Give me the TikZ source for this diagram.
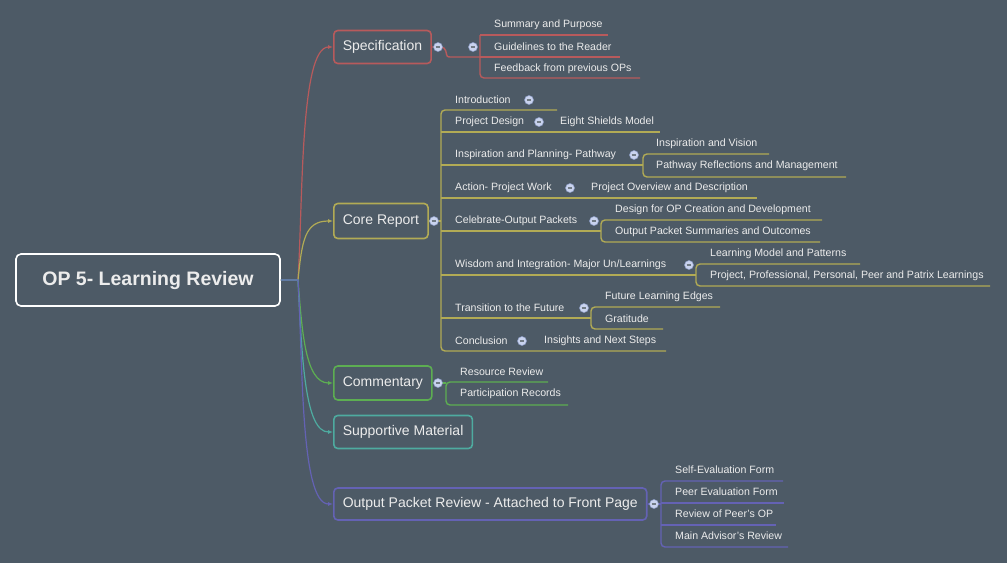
\documentclass[tikz,border=0pt]{standalone}
\usepackage{fontspec}
\setmainfont{Liberation Sans}
\usetikzlibrary{arrows.meta}
\definecolor{bg}{HTML}{4D5A66}
\definecolor{cspec}{HTML}{B85A5C}
\definecolor{ccore}{HTML}{B2AB55}
\definecolor{ccom}{HTML}{5DAE52}
\definecolor{csup}{HTML}{4EABA0}
\definecolor{cout}{HTML}{6462B4}
\definecolor{txt}{HTML}{ECECEC}
\definecolor{icf}{HTML}{C9D3EE}
\definecolor{icd}{HTML}{8C9CC6}
\tikzset{
  lbl/.style={anchor=west,inner sep=0pt,text=txt,font=\fontsize{10.6}{12}\selectfont},
  topic/.style={draw=#1,line width=1.6pt,rounded corners=4pt,text=txt,font=\fontsize{14}{16}\selectfont,anchor=west,inner xsep=9pt,inner ysep=0pt,minimum height=33pt},
  br/.style={line width=1.4pt,#1,rounded corners=4pt},
  con/.style={line width=1.2pt,#1,-{Latex[length=5pt,width=4pt]}},
  colicon/.pic={\fill[icf,draw=icd,line width=0.5pt] (0,0) circle (4.5pt);
    \draw[bg!80!white,line width=1.1pt] (-2.3pt,0) -- (2.3pt,0);}
}
\begin{document}
\begin{tikzpicture}[x=1pt,y=-1pt]
\fill[bg] (0,0) rectangle (1007,563);
\useasboundingbox (0,0) rectangle (1007,563);
% root
\node[draw=white,line width=1.6pt,rounded corners=5pt,text=txt,font=\fontsize{19.5}{22}\selectfont\bfseries,minimum width=264pt,minimum height=52pt,inner sep=0pt] (root) at (148,280) {OP 5- Learning Review};
% topics
\node[topic=cspec] (spec) at (333,47) {Specification};
\node[topic=ccore,minimum height=35pt] (core) at (333,221) {Core Report};
\node[topic=ccom,minimum height=34pt] (com) at (333,383) {Commentary};
\node[topic=csup] (sup) at (333,432) {Supportive Material};
\node[topic=cout,minimum height=32pt] (out) at (333,504) {Output Packet Review - Attached to Front Page};
% connectors
\coordinate (r) at (root.east);
\draw[con=cspec] (r) -- (298,280) .. controls (303,200) and (300,47) .. (spec.west);
\draw[con=ccore] (r) -- (298,280) .. controls (302,240) and (305,221) .. (core.west);
\draw[con=ccom] (r) -- (298,280) .. controls (302,330) and (305,383) .. (com.west);
\draw[con=csup] (r) -- (298,280) .. controls (302,360) and (305,432) .. (sup.west);
\draw[con=cout] (r) -- (298,280) .. controls (303,360) and (300,504) .. (out.west);
% ---- Specification
\draw[br=cspec] (spec.east) -- (445,47) .. controls (447,57) .. (455,57) -- (480,57);
\draw[br=cspec] (480,35) -- (608,35);
\draw[br=cspec] (480,35) -- (480,78) -- (640,78);
\draw[br=cspec] (480,57) -- (620,57);
\pic at (438,47) {colicon};
\pic at (473,47) {colicon};
\node[lbl] (s1) at (494,25) {Summary and Purpose};
\node[lbl] (s2) at (494,47) {Guidelines to the Reader};
\node[lbl] (s3) at (494,69) {Feedback from previous OPs};
% ---- Core report
\draw[br=ccore] (core.east) -- (441,221);
\draw[br=ccore] (557,110) -- (441,110) -- (441,351) -- (666,351);
\draw[br=ccore] (441,132) -- (660,132);
\draw[br=ccore] (441,165) -- (643,165);
\draw[br=ccore] (441,198) -- (757,198);
\draw[br=ccore] (441,231) -- (601,231);
\draw[br=ccore] (441,275) -- (696,275);
\draw[br=ccore] (441,318) -- (591,318);
\draw[br=ccore] (769,154) -- (643,154) -- (643,177) -- (846,177);
\draw[br=ccore] (822,220) -- (601,220) -- (601,242) -- (820,242);
\draw[br=ccore] (860,264) -- (696,264) -- (696,286) -- (990,286);
\draw[br=ccore] (720,307) -- (591,307) -- (591,329) -- (663,329);
\pic at (434,221) {colicon};
\node[lbl] (c1) at (455,100) {Introduction};
\pic at (529,100) {colicon};
\node[lbl] (c2) at (455,122) {Project Design};
\pic at (539,122) {colicon};
\node[lbl] (c2a) at (560,122) {Eight Shields Model};
\node[lbl] (c3) at (455,155) {Inspiration and Planning- Pathway};
\pic at (634,155) {colicon};
\node[lbl] (c3a) at (656,144) {Inspiration and Vision};
\node[lbl] (c3b) at (656,166) {Pathway Reflections and Management};
\node[lbl] (c4) at (455,188) {Action- Project Work};
\pic at (570,188) {colicon};
\node[lbl] (c4a) at (591,188) {Project Overview and Description};
\node[lbl] (c5) at (455,221) {Celebrate-Output Packets};
\pic at (594,221) {colicon};
\node[lbl] (c5a) at (615,210) {Design for OP Creation and Development};
\node[lbl] (c5b) at (615,232) {Output Packet Summaries and Outcomes};
\node[lbl] (c6) at (455,265) {Wisdom and Integration- Major Un/Learnings};
\pic at (689,265) {colicon};
\node[lbl] (c6a) at (710,254) {Learning Model and Patterns};
\node[lbl] (c6b) at (710,276) {Project, Professional, Personal, Peer and Patrix Learnings};
\node[lbl] (c7) at (455,308) {Transition to the Future};
\pic at (584,308) {colicon};
\node[lbl] (c7a) at (605,297) {Future Learning Edges};
\node[lbl] (c7b) at (605,319) {Gratitude};
\node[lbl] (c8) at (455,341) {Conclusion};
\pic at (522,341) {colicon};
\node[lbl] (c8a) at (544,341) {Insights and Next Steps};
% ---- Commentary
\draw[br=ccom] (com.east) -- (446,383);
\draw[br=ccom] (548,382) -- (446,382) -- (446,405) -- (568,405);
\pic at (438,383) {colicon};
\node[lbl] (m1) at (460,372) {Resource Review};
\node[lbl] (m2) at (460,394) {Participation Records};
% ---- Output packet review
\draw[br=cout] (out.east) -- (661,504);
\draw[br=cout] (783,481) -- (661,481) -- (661,547) -- (788,547);
\draw[br=cout] (661,503) -- (784,503);
\draw[br=cout] (661,525) -- (776,525);
\pic at (654,504) {colicon};
\node[lbl] (o1) at (675,470) {Self-Evaluation Form};
\node[lbl] (o2) at (675,492) {Peer Evaluation Form};
\node[lbl] (o3) at (675,514) {Review of Peer's OP};
\node[lbl] (o4) at (675,536) {Main Advisor's Review};
\end{tikzpicture}
\end{document}
